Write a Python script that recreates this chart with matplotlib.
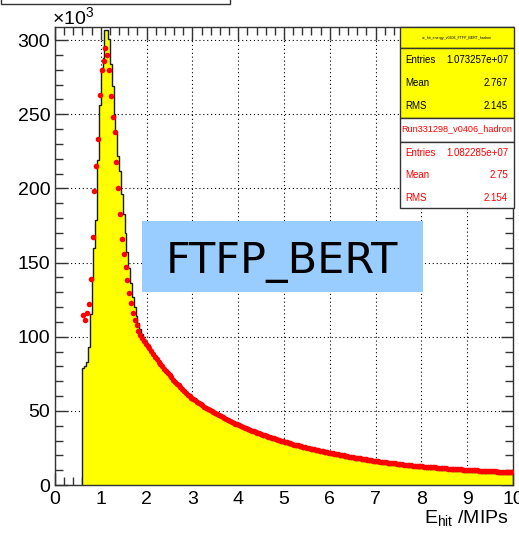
import numpy as np
import matplotlib
matplotlib.use("Agg")
import matplotlib.pyplot as plt
from matplotlib.patches import Rectangle
from matplotlib.ticker import MultipleLocator

plt.rcParams['font.family'] = ['Liberation Sans', 'DejaVu Sans']
plt.rcParams['mathtext.fontset'] = 'custom'
plt.rcParams['mathtext.rm'] = 'Liberation Sans'
plt.rcParams['mathtext.it'] = 'Liberation Sans:italic'

# histogram contents in units of 10^3, bins of 0.04 starting at 0.6
bin_start = 0.6
bin_width = 0.04

# simulation (FTFP_BERT), filled yellow
mc_peak = [79, 80, 83, 93, 115, 138, 160, 179, 219, 256,
           281, 288, 307, 307, 301, 284, 269, 250, 237, 222,
           212, 196, 183, 170, 157, 146, 136, 127, 120, 114,
           109, 105, 101.5, 98.5, 96]
mc_tail = [
    95.0, 93.0, 91.0, 89.2, 87.5, 85.7, 84.0, 82.3, 80.7, 79.1, 77.5, 76.0, 74.5, 73.0, 71.6, 70.3, 69.0, 67.7, 66.5, 65.3, 63.6, 62.4, 61.2, 60.1, 59.0,
    58.0, 57.1, 56.2, 55.3, 54.5, 53.6, 52.8, 52.0, 51.2, 50.4, 49.7, 49.0, 48.3, 47.5, 46.8, 46.2, 45.5, 44.8, 44.2, 43.5, 42.9, 42.2, 41.6, 41.0, 40.4,
    39.6, 39.0, 38.4, 37.8, 37.2, 36.6, 36.1, 35.6, 35.1, 34.6, 34.1, 33.6, 33.2, 32.7, 32.3, 31.9, 31.4, 31.0, 30.6, 30.2, 29.8, 29.4, 29.0, 28.6, 28.2,
    27.8, 27.5, 27.1, 26.8, 26.5, 26.1, 25.8, 25.5, 25.2, 24.9, 24.6, 24.3, 24.0, 23.7, 23.4, 23.1, 22.8, 22.5, 22.2, 22.0, 21.7, 21.4, 21.2, 20.9, 20.6,
    20.4, 20.1, 19.9, 19.6, 19.4, 19.1, 18.9, 18.7, 18.4, 18.2, 18.0, 17.8, 17.5, 17.3, 17.1, 16.9, 16.7, 16.5, 16.3, 16.1, 15.9, 15.7, 15.5, 15.3, 15.1,
    14.9, 14.7, 14.6, 14.4, 14.2, 14.1, 13.9, 13.8, 13.6, 13.5, 13.3, 13.2, 13.0, 12.9, 12.7, 12.6, 12.5, 12.3, 12.2, 12.1, 11.9, 11.8, 11.7, 11.6, 11.4,
    11.3, 11.2, 11.1, 11.0, 10.9, 10.8, 10.7, 10.6, 10.5, 10.4, 10.3, 10.2, 10.1, 10.0, 9.9, 9.8, 9.7, 9.6, 9.6, 9.5, 9.4, 9.3, 9.2, 9.1, 9.1,
    9.0, 8.9, 8.8, 8.7, 8.7, 8.6, 8.5, 8.4, 8.4, 8.3, 8.2, 8.1, 8.1, 8.0, 7.9, 7.8, 7.8, 7.7, 7.6, 7.6, 7.5, 7.4, 7.4, 7.3, 7.2,
]

# data (Run331298), red markers
data_peak = [114.6, 111, 116, 122, 139, 167, 198, 215, 233, 263,
             280, 286, 294.5, 290, 280, 262, 248, 238, 218, 200,
             183, 166, 156, 147, 138, 129.7, 123, 116, 111, 108,
             104, 101, 99, 97, 95]
data_tail = [
    94.0, 92.1, 90.3, 88.4, 86.6, 84.9, 83.2, 81.6, 80.0, 78.4, 76.9, 75.4, 73.9, 72.5, 71.1, 69.7, 68.4, 67.1, 65.9, 64.7, 63.3, 62.1, 61.0, 59.9, 58.8,
    58.0, 57.0, 56.2, 55.3, 54.5, 53.7, 52.9, 52.1, 51.3, 50.5, 49.8, 49.1, 48.4, 47.7, 47.0, 46.3, 45.6, 45.0, 44.3, 43.7, 43.0, 42.4, 41.8, 41.3, 40.8,
    40.3, 39.7, 39.2, 38.7, 38.2, 37.7, 37.2, 36.7, 36.2, 35.7, 35.3, 34.8, 34.4, 33.9, 33.5, 33.1, 32.6, 32.2, 31.8, 31.4, 31.0, 30.6, 30.2, 29.8, 29.4,
    29.0, 28.7, 28.3, 28.0, 27.7, 27.3, 27.0, 26.7, 26.4, 26.1, 25.8, 25.5, 25.2, 24.9, 24.6, 24.3, 24.0, 23.7, 23.4, 23.2, 22.9, 22.6, 22.4, 22.1, 21.8,
    21.6, 21.3, 21.1, 20.8, 20.6, 20.3, 20.1, 19.9, 19.6, 19.4, 19.2, 19.0, 18.7, 18.5, 18.3, 18.1, 17.9, 17.7, 17.5, 17.3, 17.1, 16.9, 16.7, 16.5, 16.3,
    16.1, 15.9, 15.8, 15.6, 15.4, 15.3, 15.1, 15.0, 14.8, 14.7, 14.5, 14.4, 14.2, 14.1, 13.9, 13.8, 13.7, 13.5, 13.4, 13.3, 13.1, 13.0, 12.9, 12.8, 12.6,
    12.5, 12.4, 12.3, 12.2, 12.1, 12.0, 11.9, 11.8, 11.7, 11.6, 11.5, 11.4, 11.3, 11.2, 11.1, 11.0, 10.9, 10.8, 10.8, 10.7, 10.6, 10.5, 10.4, 10.3, 10.3,
    10.2, 10.1, 10.0, 9.9, 9.9, 9.8, 9.7, 9.6, 9.6, 9.5, 9.4, 9.4, 9.3, 9.3, 9.2, 9.2, 9.1, 9.1, 9.0, 9.0, 9.0, 8.9, 8.9, 8.9, 8.8,
]

mc_stats = ["1.073257e+07", "2.767", "2.145"]
data_stats = ["1.082285e+07", "2.75", "2.154"]
stat_names = ["Entries", "Mean", "RMS"]

mc = np.array(mc_peak + mc_tail)
data = np.array(data_peak + data_tail)
assert len(mc) == 235 and len(data) == 235
edges = bin_start + bin_width * np.arange(len(mc) + 1)
centers = 0.5 * (edges[:-1] + edges[1:])

W, H = 519, 534
fig = plt.figure(figsize=(W / 100, H / 100), dpi=100)
ax = fig.add_axes([55 / W, 1 - 485 / H, (513 - 55) / W, (485 - 27) / H])

ax.stairs(mc, edges, fill=True, facecolor='#ffff00', edgecolor='none', zorder=1)
ax.stairs(mc, edges, baseline=0, color='#1a1a1a', lw=1.0, zorder=2)
ax.plot(centers, data, 'o', color='#ff0000', ms=4.0, mew=0, zorder=3)

ax.set_xlim(0, 10)
ax.set_ylim(0, 308.8)
ax.xaxis.set_major_locator(MultipleLocator(1))
ax.xaxis.set_minor_locator(MultipleLocator(0.2))
ax.yaxis.set_major_locator(MultipleLocator(50))
ax.yaxis.set_minor_locator(MultipleLocator(10))
ax.tick_params(which='both', direction='in', top=True, right=True, labelsize=14,
               color='#333333', width=1)
ax.tick_params(which='major', length=9)
ax.tick_params(which='minor', length=5.5)
ax.tick_params(axis='x', pad=4)
ax.tick_params(axis='y', pad=3.5)
ax.grid(True, which='major', color='black', linestyle=(0, (1, 2.5)), lw=0.8)
ax.set_axisbelow(True)
for s in ax.spines.values():
    s.set_color('#333333')
    s.set_linewidth(1)


def fx(x):
    return x / W


def fy(y):
    return 1 - y / H


def box(x0, y0, x1, y1, fc, ec='#333333'):
    fig.patches.append(Rectangle((fx(x0), fy(y1)), (x1 - x0) / W, (y1 - y0) / H,
                                 transform=fig.transFigure, facecolor=fc,
                                 edgecolor=ec, lw=1, zorder=5))


# cut-off title box at the very top
box(1, -10, 230, 4, 'white')

fig.text(fx(52), fy(24), '×10$^{3}$', fontsize=14, va='baseline')
fig.text(fx(509), fy(523), 'E$_{\\mathrm{hit}}$ /MIPs', fontsize=14,
         ha='right', va='baseline')

# stat boxes
box(400, 27, 514, 48.3, '#ffff00')
box(400, 48.3, 514, 118.3, '#ffff00')
box(400, 118.3, 514, 141.7, 'white')
box(400, 141.7, 514, 208.3, 'white')
fig.text(fx(457), fy(38), 'ac_hit_energy_v0406_FTFP_BERT_hadron', fontsize=2.6,
         ha='center', va='center', zorder=6)
fig.text(fx(457), fy(129), 'Run331298_v0406_hadron', fontsize=6.6, color='red',
         ha='center', va='center', zorder=6)
for i, name in enumerate(stat_names):
    y1 = 60 + i * 23
    y2 = 153 + i * 22.5
    fig.text(fx(405), fy(y1), name, fontsize=7, ha='left', va='center', zorder=6)
    fig.text(fx(508), fy(y1), mc_stats[i], fontsize=7, ha='right', va='center', zorder=6)
    fig.text(fx(405), fy(y2), name, fontsize=7, color='red', ha='left', va='center', zorder=6)
    fig.text(fx(508), fy(y2), data_stats[i], fontsize=7, color='red', ha='right', va='center', zorder=6)

# model label
box(141.7, 221, 422.7, 291.7, '#99ccff', ec='none')
fig.text(fx(282), fy(273.3), 'FTFP_BERT', fontsize=31, family='DejaVu Sans',
         ha='center', va='baseline', zorder=6)

fig.savefig('out.png', dpi=100)
